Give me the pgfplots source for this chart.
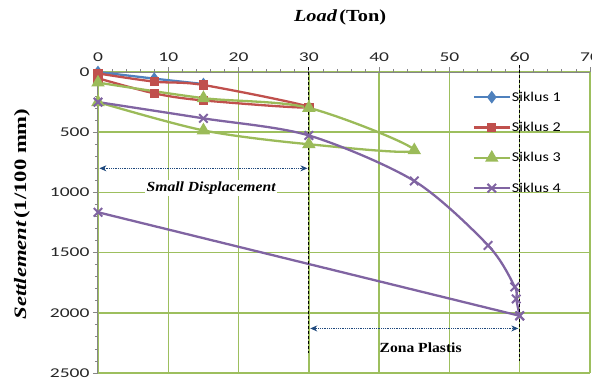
\documentclass[border=0pt]{standalone}
\usepackage{pgfplots}
\pgfplotsset{compat=1.18}
\usepackage{fontspec}
\usetikzlibrary{arrows.meta}
\setmainfont{Liberation Serif}
\newfontfamily\tickf{Carlito}[FakeStretch=1.45]
\newfontfamily\legf{Carlito}[FakeStretch=1.2]
\newfontfamily\labf{Liberation Serif}[FakeStretch=1.2]
\newfontfamily\ylabf{Liberation Serif}[FakeStretch=1.3]
\newfontfamily\annf{Liberation Serif}[FakeStretch=1.12]
\definecolor{cblue}{HTML}{4F81BD}
\definecolor{cred}{HTML}{C0504D}
\definecolor{cgreen}{HTML}{9BBB59}
\definecolor{cpurple}{HTML}{8064A2}
\definecolor{gridgreen}{HTML}{9DBF5E}
\definecolor{axgray}{HTML}{868686}
\definecolor{arrowblue}{HTML}{1F497D}
\begin{document}
\begin{tikzpicture}
\begin{axis}[
  at={(0,0)}, anchor=south west,
  scale only axis, width=492bp, height=301bp,
  xmin=0, xmax=70, ymin=0, ymax=2500, y dir=reverse,
  axis x line*=top, axis y line*=left,
  xtick={0,10,...,70}, ytick={0,500,...,2500},
  minor x tick num=4, minor y tick num=4,
  grid=major, major grid style={color=gridgreen, line width=1.5bp},
  axis line style={color=axgray, line width=1bp},
  tick style={color=axgray, line width=0.8bp},
  major tick length=5bp, minor tick length=3bp, tick align=outside,
  /pgf/number format/assume math mode=true,
  /pgf/number format/1000 sep={},
  xticklabel style={font=\tickf\fontsize{13.5}{14}\selectfont, text=black!85, yshift=2bp},
  yticklabel style={font=\tickf\fontsize{13.5}{14}\selectfont, text=black!85},
  xlabel={{\labf\fontsize{17}{20}\selectfont\bfseries\itshape Load} {\labf\fontsize{17}{20}\selectfont\bfseries (Ton)}},
  xlabel style={at={(axis description cs:0.492,1)}, anchor=center, yshift=55bp},
  clip=false,
  legend style={at={(axis description cs:0.755,0.945)}, anchor=north west, draw=none, fill=none,
    font=\legf\fontsize{13.5}{14}\selectfont, row sep=17.5bp, nodes={inner sep=1bp}},
  legend cell align=left,
  legend image code/.code={\draw[#1,mark repeat=2,mark phase=2] plot coordinates {(0bp,0bp) (18bp,0bp) (36bp,0bp)};},
]
\addplot[color=cblue, line width=2.3bp, smooth, tension=0.5, mark=diamond*, mark size=4.5bp, mark options={fill=cblue}]
  coordinates {(0,0) (8,55) (15,100)};
\addlegendentry{Siklus 1}
\addplot[color=cred, line width=2.3bp, smooth, tension=0.5, mark=square*, mark size=3.5bp, mark options={fill=cred}]
  coordinates {(0,12) (8,80) (15,108) (30,292) (15,236) (8,177) (0,52)};
\addlegendentry{Siklus 2}
\addplot[color=cgreen, line width=2.3bp, smooth, tension=0.5, mark=triangle*, mark size=5.5bp, mark options={fill=cgreen}]
  coordinates {(0,88) (15,217) (30,298) (45,650) (30,600) (15,485) (0,250)};
\addlegendentry{Siklus 3}
\addplot[color=cpurple, line width=2.3bp, smooth, tension=0.5, mark=x, mark size=6bp, mark options={line width=2bp}]
  coordinates {(0,250) (15,385) (30,527) (45,905) (55.5,1440) (59.3,1785) (59.5,1885) (60,2025)};
\addlegendentry{Siklus 4}
\addplot[color=cpurple, line width=2.3bp, smooth, tension=0.3, mark=x, mark size=6bp, mark options={line width=2bp}, forget plot]
  coordinates {(60,2025) (0,1165)};
\draw[densely dashed, black, line width=1bp] (axis cs:30,-40) -- (axis cs:30,2330);
\draw[densely dashed, black, line width=1bp] (axis cs:60,-60) -- (axis cs:60,2400);
\draw[{Stealth[length=7bp,width=6bp]}-{Stealth[length=7bp,width=6bp]}, color=arrowblue, densely dotted, line width=0.8bp] (axis cs:0.2,800) -- (axis cs:29.8,800);
\draw[{Stealth[length=7bp,width=6bp]}-{Stealth[length=7bp,width=6bp]}, color=arrowblue, densely dotted, line width=0.8bp] (axis cs:30.2,2130) -- (axis cs:59.8,2130);
\node[fill=white, inner sep=1.5bp, font=\annf\fontsize{14}{16}\selectfont\bfseries\itshape] at (axis cs:16.1,965) {Small Displacement};
\node[inner sep=1bp, font=\annf\fontsize{14}{16}\selectfont\bfseries] at (axis cs:45.9,2292) {Zona Plastis};
\end{axis}
\node[rotate=90, anchor=center, inner sep=0pt] at (-76bp,159bp) {{\ylabf\fontsize{17.5}{20}\selectfont\bfseries\itshape Settlement} {\ylabf\fontsize{17.5}{20}\selectfont\bfseries (1/100 mm)}};
\pgfresetboundingbox
\path (-98bp,-8bp) rectangle (494bp,373bp);
\end{tikzpicture}
\end{document}
